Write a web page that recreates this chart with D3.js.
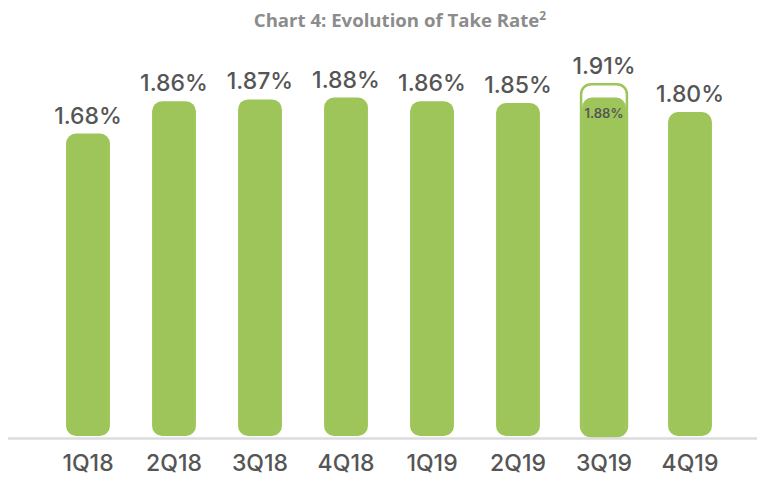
<!DOCTYPE html>
<html>
<head>
<meta charset="utf-8">
<script src="https://cdn.jsdelivr.net/npm/d3@7"></script>
<style>
  html, body { margin: 0; padding: 0; background: #fff; }
  svg { display: block; }
</style>
</head>
<body>
<div id="chart"></div>
<script>
// Chart data
const quarters = ['1Q18', '2Q18', '3Q18', '4Q18', '1Q19', '2Q19', '3Q19', '4Q19'];
const takeRate = [1.68, 1.86, 1.87, 1.88, 1.86, 1.85, 1.88, 1.80];
const valueLabels = ['1.68%', '1.86%', '1.87%', '1.88%', '1.86%', '1.85%', '1.88%', '1.80%'];
// 3Q19 reported vs. adjusted
const highlightQuarter = '3Q19';
const highlightValue = 1.91;
const highlightLabel = '1.91%';

const width = 757;
const height = 477;
const baseY = 436;
const barColor = '#9dc55a';
const textColor = '#555555';

const svg = d3.select('#chart').append('svg')
  .attr('width', width)
  .attr('height', height);

// Scales
const x = d3.scaleBand()
  .domain(quarters)
  .range([45, 733])
  .paddingInner(0.49)
  .paddingOuter(0.245);

const y = d3.scaleLinear()
  .domain([0, 2])
  .range([baseY, baseY - 360]);

// Title
const title = svg.append('text')
  .attr('x', 400)
  .attr('y', 27)
  .attr('text-anchor', 'middle')
  .attr('font-family', 'Open Sans, sans-serif')
  .attr('font-weight', 700)
  .attr('font-size', 18.6)
  .attr('fill', '#8c8c8c');
title.append('tspan').text('Chart 4: Evolution of Take Rate');
title.append('tspan').attr('dy', -7).attr('font-size', 12).text('2');

// Baseline
svg.append('line')
  .attr('x1', 8)
  .attr('x2', width)
  .attr('y1', baseY + 2.5)
  .attr('y2', baseY + 2.5)
  .attr('stroke', '#dcdcdc')
  .attr('stroke-width', 2.5);

const data = quarters.map((q, i) => ({ q, v: takeRate[i], label: valueLabels[i] }));

// Outline bar for the 3Q19 reported value
const hx = x(highlightQuarter);
svg.append('rect')
  .attr('x', hx - 1)
  .attr('y', y(highlightValue) - 8)
  .attr('width', x.bandwidth() + 2)
  .attr('height', baseY - y(highlightValue) + 8)
  .attr('rx', 10)
  .attr('fill', '#fff')
  .attr('stroke', barColor)
  .attr('stroke-width', 2.5);

// Bars
svg.selectAll('.bar')
  .data(data)
  .enter().append('rect')
  .attr('class', 'bar')
  .attr('x', d => x(d.q))
  .attr('y', d => y(d.v))
  .attr('width', x.bandwidth())
  .attr('height', d => baseY - y(d.v))
  .attr('rx', 10)
  .attr('fill', barColor);

// Value labels
svg.selectAll('.val')
  .data(data)
  .enter().append('text')
  .attr('class', 'val')
  .attr('x', d => x(d.q) + x.bandwidth() / 2)
  .attr('y', d => d.q === highlightQuarter ? y(d.v) + 20 : y(d.v) - 10)
  .attr('text-anchor', 'middle')
  .attr('font-family', 'Inter, sans-serif')
  .attr('font-weight', d => d.q === highlightQuarter ? 600 : 500)
  .attr('font-size', d => d.q === highlightQuarter ? 13 : 23)
  .attr('fill', textColor)
  .text(d => d.label);

svg.append('text')
  .attr('x', hx + x.bandwidth() / 2)
  .attr('y', y(highlightValue) - 18)
  .attr('text-anchor', 'middle')
  .attr('font-family', 'Inter, sans-serif')
  .attr('font-weight', 500)
  .attr('font-size', 23)
  .attr('fill', textColor)
  .text(highlightLabel);

// X axis labels
const xAxis = d3.axisBottom(x).tickSize(0).tickPadding(0);
const gx = svg.append('g')
  .attr('transform', `translate(0,${baseY + 35})`)
  .call(xAxis);
gx.select('.domain').remove();
gx.selectAll('text')
  .attr('dy', 0)
  .attr('font-family', 'Inter, sans-serif')
  .attr('font-weight', 500)
  .attr('font-size', 23)
  .attr('fill', textColor);
</script>
</body>
</html>
